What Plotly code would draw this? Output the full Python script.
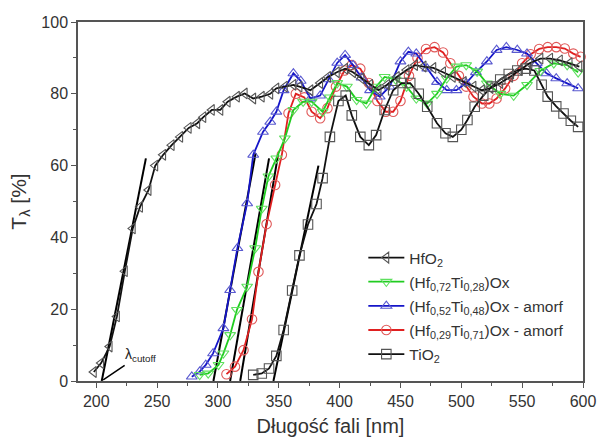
import plotly.graph_objects as go

# ---------------- data ----------------
hfo2_x = [198, 204, 211, 217, 223.5, 230, 236, 243, 248.5, 255, 262, 269, 276, 283, 288, 295, 302, 308, 315.6, 322,
          329, 336, 343, 348, 355, 362, 367, 376, 384, 390.5, 397.7, 404.5, 411, 418, 425, 432, 439, 447, 455, 462,
          469, 477, 485, 493, 502, 510, 517, 524, 532, 540, 548, 556, 565, 573, 581, 589, 597]
hfo2_y = [2.5, 5, 9.6, 18, 30.6, 42.5, 48.5, 53.2, 60, 63, 65.7, 68, 70.5, 71.8, 73.5, 75.5, 75.5, 77.8, 79.2, 80.1,
          78.7, 79.2, 80, 81.5, 82, 82.5, 82, 81, 83, 84.7, 86, 87, 86, 84.3, 82.5, 81, 82.5, 84.7, 86.6, 88,
          87.6, 87.2, 86, 84.7, 83.3, 82, 81, 81.6, 83, 84.7, 86.6, 88.5, 89.8, 89.8, 89.3, 88.5, 87.6]

hf72_x = [285, 292, 300.5, 304.5, 310, 315.6, 324, 330.6, 336, 341.5, 348, 355, 362, 370, 377, 386, 392, 398, 406, 414,
          422, 430, 437, 446, 455, 463, 472, 480, 488, 496, 504, 513, 521, 532, 543, 554, 565, 576, 587, 596]
hf72_y = [1.7, 2.1, 4.5, 7.7, 12.8, 19.8, 26.3, 37, 48, 57, 62, 67.6, 75.5, 77.8, 77.8, 75, 79, 83, 82, 78.3,
          77.3, 82, 84.7, 84, 82, 78.7, 77.3, 80, 84.3, 87.6, 88, 86.2, 82.9, 80, 79.5, 82.5, 86.4, 88.5, 88, 86]

hf52_x = [278.5, 285, 290, 296, 304.5, 310, 316, 324, 329, 337, 343, 348, 354, 362, 368, 376, 384, 391, 398, 404.5,
          411, 418, 425, 433, 441, 450, 456.5, 463, 472, 480, 488, 496, 504, 512, 521, 529, 537, 546, 554, 562,
          570, 578, 587, 596]
hf52_y = [1.2, 2.6, 4.5, 7.7, 14.7, 25.3, 37, 49.5, 63, 69.4, 72.2, 75, 81, 85.7, 83.6, 78.7, 79.5, 84, 88.6, 90.8,
          88, 84.5, 81, 79.2, 82, 89, 91.7, 91.2, 87, 83.3, 81, 81, 83, 86, 89, 92.2, 93, 92.2, 91.2, 88.5,
          85.7, 84.3, 82.9, 81.5]

hf29_x = [307, 314, 321, 328, 333.3, 340, 347, 352.5, 358, 364, 371, 377, 384, 390, 397, 404, 410, 417, 424, 431,
          438, 444, 450, 457, 464, 471, 478, 485, 491, 498, 504, 510, 517, 523, 529, 536, 543, 550, 557, 564,
          571, 578, 585, 592, 598]
hf29_y = [1.9, 4, 8.6, 17.2, 30.4, 43.7, 54.6, 63, 74.6, 80, 79, 75, 73.2, 76, 82, 86.5, 88, 87, 83, 78,
          75, 75, 78, 85, 90, 92.5, 93, 91.5, 88.5, 85, 82, 79.2, 77.3, 77.3, 78.7, 81.5, 85, 88.5, 91, 92.5,
          93, 93, 92.6, 91.2, 90.3]

tio2_x = [329, 336, 342, 348, 354, 361, 367, 374, 381, 386, 392, 399, 405, 410, 417, 424, 430, 437, 444, 451,
          458, 465, 472, 480, 487, 493, 500, 505, 511, 518, 525, 532, 539, 546, 553, 560, 566, 571, 578, 584,
          590, 596]
tio2_y = [1.7, 2.1, 3.5, 7, 14.2, 25.2, 35, 43.6, 49.3, 56.5, 68, 78, 79.5, 74, 68, 65.7, 68.5, 75.5, 81, 83,
          83, 80, 76.4, 71.8, 69, 68, 70, 72.7, 76.4, 79.5, 82, 84, 85.5, 86.5, 87, 86.5, 82.5, 79.2, 76.5, 74.5,
          72.5, 70.8]

# tangent (cut-off) lines: start/end points
fit_hfo2_x, fit_hfo2_y = [204.5, 240.8], [0, 62]
fit_hf52_x, fit_hf52_y = [296.3, 331], [0, 63.5]
fit_hf72_x, fit_hf72_y = [310, 342], [0, 62]
fit_hf29_x, fit_hf29_y = [318.3, 349.5], [0, 63.2]
fit_tio2_x, fit_tio2_y = [345.6, 382.6], [0, 60]

x_ticks = [200, 250, 300, 350, 400, 450, 500, 550, 600]
y_ticks = [0, 20, 40, 60, 80, 100]

FONT = "Arial, Liberation Sans, Helvetica, sans-serif"

fig = go.Figure()

# fit lines (drawn first, under the data)
for fx, fy in [(fit_hfo2_x, fit_hfo2_y), (fit_hf52_x, fit_hf52_y), (fit_hf72_x, fit_hf72_y),
               (fit_hf29_x, fit_hf29_y), (fit_tio2_x, fit_tio2_y)]:
    fig.add_trace(go.Scatter(x=fx, y=fy, mode="lines", line=dict(color="black", width=2),
                             showlegend=False, hoverinfo="skip", cliponaxis=False))

series = [
    ("(Hf<sub>0,29</sub>Ti<sub>0,71</sub>)Ox - amorf", hf29_x, hf29_y, "circle-open", "#e02020", "#e05a5a", 4),
    ("(Hf<sub>0,52</sub>Ti<sub>0,48</sub>)Ox - amorf", hf52_x, hf52_y, "triangle-up-open", "#1515c8", "#5a5ad0", 3),
    ("(Hf<sub>0,72</sub>Ti<sub>0,28</sub>)Ox", hf72_x, hf72_y, "triangle-down-open", "#20cc20", "#5ee05e", 2),
    ("TiO<sub>2</sub>", tio2_x, tio2_y, "square-open", "#111111", "#555555", 5),
    ("HfO<sub>2</sub>", hfo2_x, hfo2_y, "triangle-left-open", "#111111", "#555555", 1),
]
for name, xs, ys, sym, lc, mc, rank in series:
    fig.add_trace(go.Scatter(
        x=xs, y=ys, mode="lines+markers", name=name,
        line=dict(color=lc, width=1.8),
        marker=dict(symbol=sym, size=9.5, color=mc, line=dict(color=mc, width=1.1)),
        legendrank=rank, legendgroup=name, cliponaxis=False))

fig.add_annotation(x=205.7, y=0.3, xref="x", yref="y",
                   text="λ<sub>cutoff</sub>", showarrow=True, arrowhead=0, arrowwidth=1.5,
                   arrowcolor="black", ax=37, ay=-25,
                   font=dict(family=FONT, size=14, color="#222"))

axis_common = dict(showline=True, linecolor="#555", linewidth=1.5, mirror=True,
                   ticks="outside", ticklen=5, tickwidth=1.2, tickcolor="#555",
                   showgrid=False, zeroline=False, automargin=False,
                   tickfont=dict(family=FONT, size=16, color="#333"))

fig.update_xaxes(range=[185, 600], tickvals=x_ticks,
                 minor=dict(dtick=25, ticks="outside", ticklen=3, tickcolor="#555"),
                 title=dict(text="Długość fali [nm]", standoff=10,
                            font=dict(family=FONT, size=20, color="#333")),
                 **axis_common)
fig.update_yaxes(range=[0, 100], tickvals=y_ticks,
                 minor=dict(dtick=10, ticks="outside", ticklen=3, tickcolor="#555"),
                 title=dict(text="T<sub>λ</sub> [%]", standoff=9,
                            font=dict(family=FONT, size=21, color="#333")),
                 **axis_common)

fig.update_layout(
    width=598, height=442,
    margin=dict(l=78, r=15, t=22, b=61),
    paper_bgcolor="white", plot_bgcolor="white",
    font=dict(family=FONT, color="#333"),
    legend=dict(x=0.565, y=0.39, xanchor="left", yanchor="top",
                bgcolor="rgba(0,0,0,0)", font=dict(family=FONT, size=15.5, color="#333"),
                tracegroupgap=1, itemwidth=36),
)

fig.write_html("out.html", config={"displayModeBar": False},
               post_script="document.body.style.margin='0';")
